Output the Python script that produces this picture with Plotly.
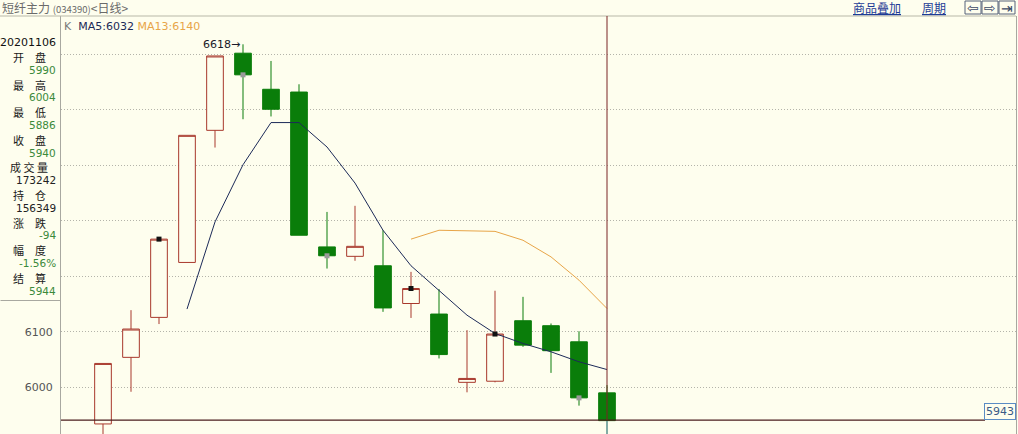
import plotly.graph_objects as go

# ---------------- data ----------------
dates = ["20201013", "20201014", "20201015", "20201016", "20201019", "20201020",
         "20201021", "20201022", "20201023", "20201026", "20201027", "20201028",
         "20201029", "20201030", "20201102", "20201103", "20201104", "20201105",
         "20201106"]
opens = [5934, 6054, 6126, 6225, 6463, 6602, 6537, 6532, 6253, 6236, 6219, 6151,
         6132, 6009, 6011, 6120, 6111, 6082, 5990]
highs = [6043, 6139, 6267, 6454, 6597, 6618, 6588, 6546, 6316, 6327, 6283, 6208,
         6177, 6103, 6174, 6163, 6115, 6101, 6004]
lows = [5905, 5992, 6114, 6225, 6432, 6483, 6488, 6274, 6214, 6228, 6136, 6125,
        6052, 5991, 6009, 6073, 6026, 5967, 5886]
closes = [6043, 6105, 6267, 6454, 6597, 6563, 6501, 6274, 6237, 6254, 6143, 6178,
          6059, 6016, 6096, 6076, 6066, 5981, 5940]

ma5_dates = dates[3:]
ma5_values = [6141, 6298, 6401, 6477, 6477, 6433, 6368, 6283, 6219, 6175, 6130,
              6097, 6079, 6064, 6046, 6032]
ma13_dates = dates[11:]
ma13_values = [6267, 6283, 6282, 6281, 6265, 6235, 6193, 6142]

marker_dates = ["20201015", "20201020", "20201023", "20201028", "20201102", "20201105"]
marker_values = [6267, 6563, 6237, 6178, 6096, 5981]
marker_colors = ["#111111", "#9a9a9a", "#9a9a9a", "#111111", "#111111", "#9a9a9a"]

grid_vals = [6000, 6100, 6200, 6300, 6400, 6500, 6600]
grid_text = ["6000", "6100", "", "", "", "", ""]

info_date = "20201106"
info_labels = ["开　盘", "最　高", "最　低", "收　盘", "成 交 量", "持　仓", "涨　跌", "幅　度", "结　算"]
info_values = ["5990", "6004", "5886", "5940", "173242", "156349", "-94", "-1.56%", "5944"]
info_colors = ["#3b8a3b", "#3b8a3b", "#3b8a3b", "#3b8a3b", "#222222", "#222222",
               "#3b8a3b", "#3b8a3b", "#3b8a3b"]

high_label = "6618"
high_index = 5
cross_index = 18
cross_price = 5941
cross_label = "5943"

# ---------------- geometry ----------------
W, H = 1018, 434
ML, MR, MT, MB = 61, 2, 16, 0
PW, PH = W - ML - MR, H - MT - MB
BG = "#FEFEEE"


def px2x(px):
    return (px - ML) / PW


def py2y(py):
    return (H - MB - py) / PH


fig = go.Figure()

fig.add_trace(go.Candlestick(
    x=dates, open=opens, high=highs, low=lows, close=closes,
    increasing=dict(line=dict(color="#a8382c", width=1), fillcolor=BG),
    decreasing=dict(line=dict(color="#0a7d0a", width=1), fillcolor="#0a7d0a"),
    whiskerwidth=0, showlegend=False, hoverinfo="skip"))

fig.add_trace(go.Scatter(x=ma5_dates, y=ma5_values, mode="lines",
                         line=dict(color="#1c2a58", width=1), showlegend=False,
                         hoverinfo="skip"))
fig.add_trace(go.Scatter(x=ma13_dates, y=ma13_values, mode="lines",
                         line=dict(color="#e8a548", width=1), showlegend=False,
                         hoverinfo="skip"))
fig.add_trace(go.Scatter(x=marker_dates, y=marker_values, mode="markers",
                         marker=dict(symbol="square", size=5, color=marker_colors,
                                     line=dict(width=0)),
                         showlegend=False, hoverinfo="skip"))

shapes = []
# header separator
shapes.append(dict(type="line", xref="paper", yref="paper", x0=px2x(0), x1=1,
                   y0=py2y(16), y1=py2y(16), line=dict(color="#b8b8a8", width=1)))
# left panel divider
shapes.append(dict(type="line", xref="paper", yref="paper", x0=px2x(0.5), x1=px2x(60),
                   y0=py2y(300.5), y1=py2y(300.5), line=dict(color="#a8a8a0", width=1)))
# crosshair
shapes.append(dict(type="line", xref="x", yref="y", x0=-1.5, x1=31.5,
                   y0=cross_price, y1=cross_price, line=dict(color="#4a1c1c", width=1.2)))
shapes.append(dict(type="line", xref="x", yref="paper", x0=cross_index, x1=cross_index,
                   y0=py2y(420), y1=1, line=dict(color="#7a2424", width=1)))
shapes.append(dict(type="line", xref="x", yref="paper", x0=cross_index, x1=cross_index,
                   y0=0, y1=py2y(421), line=dict(color="#7e9cd0", width=1)))
# buttons top right
for bx in [965, 982, 999]:
    shapes.append(dict(type="rect", xref="paper", yref="paper",
                       x0=px2x(bx), x1=px2x(bx + 16), y0=py2y(14), y1=py2y(1),
                       line=dict(color="#56627a", width=1), fillcolor=BG))

annotations = []
# title
annotations.append(dict(
    xref="paper", yref="paper", x=px2x(0), y=py2y(8), xanchor="left", yanchor="middle",
    showarrow=False,
    text="短纤主力 <span style='font-size:9.5px'>(034390)</span>&lt;日线&gt;",
    font=dict(family="Noto Sans CJK SC", size=12, color="#6a6a6a")))
annotations.append(dict(
    xref="paper", yref="paper", x=px2x(851), y=py2y(8), xanchor="left", yanchor="middle",
    showarrow=False, text="<u>商品叠加</u>",
    font=dict(family="Noto Sans CJK SC", size=12, color="#1e3c96")))
annotations.append(dict(
    xref="paper", yref="paper", x=px2x(920), y=py2y(8), xanchor="left", yanchor="middle",
    showarrow=False, text="<u>周期</u>",
    font=dict(family="Noto Sans CJK SC", size=12, color="#1e3c96")))
for bx, glyph in zip([965, 982, 999], ["⇦", "⇨", "⇥"]):
    annotations.append(dict(
        xref="paper", yref="paper", x=px2x(bx + 8), y=py2y(7.5), xanchor="center",
        yanchor="middle", showarrow=False, text=glyph,
        font=dict(family="DejaVu Sans", size=14, color="#3c4a66")))
# MA legend
annotations.append(dict(
    xref="paper", yref="paper", x=px2x(62), y=py2y(26), xanchor="left", yanchor="middle",
    showarrow=False,
    text=("<span style='color:#7a7a7a'>K</span>  "
          "<span style='color:#1c2a58'>MA5:6032</span> "
          "<span style='color:#e8a548'>MA13:6140</span>"),
    font=dict(family="DejaVu Sans", size=11)))
# high label
annotations.append(dict(
    xref="x", yref="y", x=high_index, y=highs[high_index], xanchor="right",
    yanchor="middle", xshift=-1, showarrow=False, text=high_label + "→",
    font=dict(family="DejaVu Sans", size=11, color="#1a1a2a")))
# info panel
annotations.append(dict(
    xref="paper", yref="paper", x=px2x(58), y=py2y(43), xanchor="right", yanchor="middle",
    showarrow=False, text=info_date,
    font=dict(family="DejaVu Sans", size=11, color="#111111")))
for k, (lab, val, col) in enumerate(zip(info_labels, info_values, info_colors)):
    ly = 57.0 + 27.6 * k
    annotations.append(dict(
        xref="paper", yref="paper", x=px2x(29), y=py2y(ly), xanchor="center",
        yanchor="middle", showarrow=False, text=lab,
        font=dict(family="Noto Sans CJK SC", size=11, color="#1a1a1a")))
    annotations.append(dict(
        xref="paper", yref="paper", x=px2x(58), y=py2y(ly + 12.8), xanchor="right",
        yanchor="middle", showarrow=False, text=val,
        font=dict(family="DejaVu Sans", size=10.5, color=col)))
# crosshair price label
annotations.append(dict(
    xref="paper", yref="paper", x=px2x(1000), y=py2y(411.5), xanchor="center",
    yanchor="middle", showarrow=False, text=cross_label, bgcolor=BG,
    bordercolor="#5a8cc4", borderwidth=1, borderpad=1,
    font=dict(family="DejaVu Sans", size=11, color="#3a5a86")))

fig.update_layout(
    width=W, height=H,
    margin=dict(l=ML, r=MR, t=MT, b=MB, pad=0),
    paper_bgcolor=BG, plot_bgcolor=BG,
    boxgap=0.15,
    showlegend=False,
    shapes=shapes, annotations=annotations,
    xaxis=dict(type="category", range=[-1.5, -1.5 + PW / 28.0], showgrid=False,
               showticklabels=False, ticks="", zeroline=False,
               rangeslider=dict(visible=False), showline=False, fixedrange=True),
    yaxis=dict(range=[5915.9, 6669.0], tickvals=grid_vals, ticktext=grid_text,
               showgrid=True, gridcolor="#b4b4aa", griddash="1px,2px", gridwidth=1,
               zeroline=False, showline=True, linecolor="#a8a8a0", linewidth=1,
               mirror=True, ticks="", ticklabelstandoff=5,
               tickfont=dict(family="DejaVu Sans", size=11, color="#555555"),
               fixedrange=True),
)

fig.write_html("out.html", config={"displayModeBar": False},
               post_script="document.body.style.margin='0';")
